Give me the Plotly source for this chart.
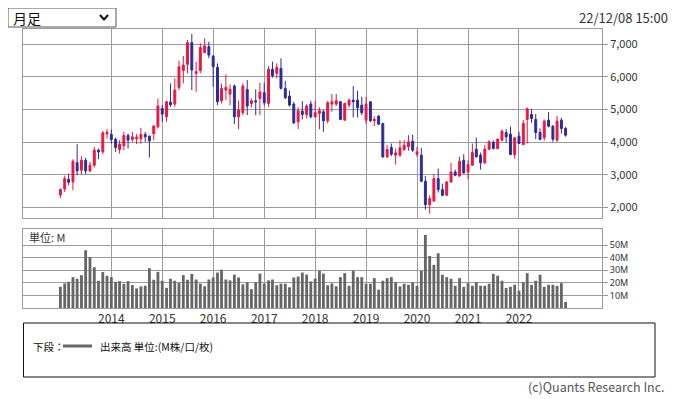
import pandas as pd
import plotly.graph_objects as go

# ---------------- data (monthly, Jan 2013 - Dec 2022) ----------------
months = pd.date_range("2013-01-01", periods=120, freq="MS")

open_ = [
    2379, 2563, 2861, 2779, 3373, 3137, 3445, 3117, 3291, 3752,
    3701, 4254, 4234, 4090, 3773, 3885, 4203, 4080, 4100, 4100,
    4234, 4182, 4254, 4469, 5033, 4777, 5227, 5166, 5678, 6191,
    6385, 7051, 6109, 6191, 6744, 6928, 6641, 6293, 5268, 5596,
    5473, 5719, 4777, 4900, 5617, 5186, 5268, 5340, 5514, 5186,
    6232, 6109, 6262, 5647, 5412, 5166, 4623, 4951, 4848, 5166,
    4777, 4879, 4930, 4654, 5166, 5166, 5238, 4674, 5135, 5289,
    5289, 5135, 4674, 5238, 4654, 4797, 4572, 3547, 3834, 3598,
    3598, 3773, 3855, 4029, 3629, 3598, 2799, 2082, 2195, 2881,
    2543, 2369, 2779, 3086, 2963, 3445, 3086, 3291, 3783, 3598,
    3363, 3783, 3988, 3803, 4059, 4295, 4244, 3619, 4182, 3926,
    4695, 4848, 4695, 4295, 4131, 4674, 4490, 4059, 4674, 4418,
]
high = [
    2584, 2973, 3035, 3475, 3936, 3568, 3516, 3393, 3855, 3803,
    4336, 4398, 4387, 4141, 4059, 4316, 4264, 4316, 4244, 4439,
    4316, 4203, 4521, 5340, 5135, 5268, 5801, 5955, 6498, 6641,
    7133, 7318, 6467, 7031, 7184, 7082, 6672, 6416, 5801, 6078,
    5770, 5770, 5268, 5801, 5904, 5340, 5617, 5822, 5822, 6334,
    6467, 6416, 6570, 5873, 5576, 5238, 5064, 5258, 5166, 5268,
    5258, 5064, 4982, 5258, 5473, 5473, 5268, 5207, 5340, 5719,
    5576, 5392, 5392, 5260, 4797, 4828, 4590, 3906, 3957, 3803,
    4059, 4059, 4213, 4230, 3855, 3824, 2963, 2369, 3014, 3189,
    2727, 2809, 3363, 3158, 3547, 3629, 3445, 3957, 4141, 3680,
    3906, 4059, 4059, 4111, 4387, 4398, 4469, 4162, 4316, 4674,
    5064, 5023, 4859, 4418, 4695, 4920, 4521, 4807, 4746, 4469,
]
low = [
    2287, 2471, 2676, 2523, 2984, 3014, 3014, 3086, 3219, 3475,
    3629, 4111, 3957, 3701, 3650, 3752, 3803, 4008, 3936, 3947,
    4008, 3527, 4059, 4418, 4623, 4623, 5084, 5084, 5596, 5801,
    6109, 5596, 5545, 6109, 6723, 6570, 5699, 5135, 5186, 5289,
    5135, 4551, 4398, 4828, 4828, 5064, 4828, 4828, 5135, 5084,
    5975, 5955, 5617, 5320, 5084, 4551, 4398, 4695, 4725, 4725,
    4746, 4398, 4316, 4572, 4930, 5105, 4674, 4654, 5064, 4756,
    4756, 4828, 4551, 4613, 4490, 4520, 3516, 3516, 3568, 3311,
    3547, 3732, 3732, 3701, 3547, 2768, 1928, 1805, 2164, 2451,
    2338, 2348, 2748, 2953, 2932, 3035, 2861, 3270, 3527, 3158,
    3322, 3752, 3773, 3783, 4039, 3977, 3598, 3496, 3936, 3906,
    3957, 4592, 4090, 4059, 4039, 4449, 4008, 4008, 4264, 4162,
]
close = [
    2543, 2881, 2768, 3414, 3117, 3445, 3117, 3291, 3752, 3701,
    4285, 4305, 4080, 3834, 3936, 4203, 4059, 4162, 4152, 4234,
    4162, 4039, 4490, 5105, 4859, 5238, 5145, 5596, 6314, 6365,
    7051, 6211, 6160, 6898, 6949, 6672, 6314, 5238, 5647, 5678,
    5617, 4777, 4982, 5719, 5105, 5268, 5238, 5535, 5207, 6232,
    6037, 6293, 5647, 5361, 5135, 4592, 4961, 4848, 5105, 4777,
    4900, 4961, 4654, 5207, 5238, 5268, 4695, 5186, 5289, 5238,
    5053, 4900, 5166, 4654, 4695, 4551, 3547, 3773, 3629, 3670,
    3824, 3906, 4008, 3752, 3701, 2799, 2082, 2266, 2881, 2543,
    2369, 2779, 3086, 2984, 3414, 3055, 3311, 3680, 3547, 3363,
    3783, 4008, 3803, 4090, 4336, 4162, 3619, 4131, 3957, 4572,
    5023, 4725, 4295, 4080, 4643, 4490, 4090, 4643, 4418, 4213,
]
volume_m = [
    16.9, 19.6, 20.9, 24.6, 23.3, 26.2, 46.0, 40.5, 32.5, 21.7,
    28.6, 25.7, 24.6, 20.9, 21.4, 19.3, 21.4, 18.3, 15.6, 17.2,
    17.7, 31.7, 22.5, 28.8, 21.7, 16.1, 23.3, 21.7, 20.1, 26.2,
    22.5, 27.2, 22.7, 19.4, 17.3, 22.7, 24.3, 28.2, 30.5, 22.7,
    22.0, 26.6, 24.3, 18.9, 20.4, 15.0, 20.4, 27.4, 19.4, 22.0,
    22.7, 18.1, 19.4, 19.4, 16.5, 24.3, 25.1, 28.2, 26.6, 21.2,
    23.5, 29.7, 27.4, 18.1, 19.6, 17.3, 24.6, 27.8, 17.7, 29.6,
    24.6, 24.6, 19.3, 19.3, 23.8, 14.6, 21.7, 23.8, 24.6, 20.6,
    17.2, 19.3, 18.5, 20.6, 17.7, 29.6, 58.2, 41.5, 34.4, 43.7,
    26.5, 24.6, 23.3, 17.7, 23.8, 16.9, 19.8, 17.7, 20.6, 17.7,
    17.7, 19.3, 27.2, 25.7, 21.7, 15.9, 16.9, 18.5, 13.8, 20.6,
    27.8, 18.5, 21.7, 26.5, 16.9, 18.5, 18.5, 17.7, 19.8, 4.8,
]

price_ticks = [2000, 3000, 4000, 5000, 6000, 7000]
vol_ticks = [10, 20, 30, 40, 50]
vol_tick_labels = ["10M", "20M", "30M", "40M", "50M"]
year_ticks = ["2014-01-01", "2015-01-01", "2016-01-01", "2017-01-01", "2018-01-01",
              "2019-01-01", "2020-01-01", "2021-01-01", "2022-01-01"]
year_labels = ["2014", "2015", "2016", "2017", "2018", "2019", "2020", "2021", "2022"]

# ---------------- styling ----------------
# the page body has an 8px margin, so the figure is drawn 8px in from the window edge
W, H = 670, 391
ML, MR, MT, MB = 15, 76, 21, 91
PW, PH = W - ML - MR, H - MT - MB
PLOT_LEFT, PLOT_BOTTOM = 8 + ML, 8 + H - MB   # in window pixels
RED = "#ea1640"
BLUE = "#2b2a9c"
GRID = "#9a9a9a"
FONT = "Noto Sans CJK JP"
LATIN = "Noto Sans"
TXT = "#333333"


def px_x(px):
    return (px - PLOT_LEFT) / PW


def px_y(py):
    return (PLOT_BOTTOM - py) / PH


fig = go.Figure()
fig.add_trace(go.Candlestick(
    x=months, open=open_, high=high, low=low, close=close,
    increasing=dict(line=dict(color=RED, width=1), fillcolor=RED),
    decreasing=dict(line=dict(color=BLUE, width=1), fillcolor=BLUE),
    whiskerwidth=0, xaxis="x", yaxis="y", showlegend=False, name="",
))
fig.add_trace(go.Bar(
    x=months, y=volume_m, marker=dict(color="#666666", line=dict(width=0)),
    xaxis="x2", yaxis="y2", showlegend=False, name="",
))

xrange_ = ["2012-04-08", "2023-08-19"]
common_x = dict(
    type="date", range=xrange_, showgrid=True, gridcolor=GRID, gridwidth=1,
    tickmode="array", tickvals=year_ticks, ticktext=year_labels,
    showline=True, mirror=True, linecolor=GRID, linewidth=1, zeroline=False,
)
common_y = dict(
    side="right", showgrid=True, gridcolor=GRID, gridwidth=1, showline=True,
    mirror=True, linecolor=GRID, linewidth=1, zeroline=False,
    ticks="outside", ticklen=5, tickcolor=GRID,
    tickfont=dict(family=FONT, size=11, color=TXT), fixedrange=True,
)

price_bottom = px_y(218.3)
vol_top = px_y(229.3)

fig.update_layout(
    width=W, height=H,
    margin=dict(l=ML, r=MR, t=MT, b=MB),
    paper_bgcolor="white", plot_bgcolor="white",
    font=dict(family=FONT, color=TXT),
    showlegend=False, bargap=0.28, boxgap=0.3,
    xaxis=dict(common_x, domain=[0, 1], anchor="y", showticklabels=False,
               rangeslider=dict(visible=False)),
    xaxis2=dict(common_x, domain=[0, 1], anchor="y2", matches="x",
                showticklabels=True, ticks="",
                tickfont=dict(family=FONT, size=12, color=TXT)),
    yaxis=dict(common_y, domain=[price_bottom, 1], range=[1663, 7469],
               tickmode="array", tickvals=price_ticks, tickformat=","),
    yaxis2=dict(common_y, domain=[0, vol_top], range=[0, 62.7],
                tickmode="array", tickvals=vol_ticks, ticktext=vol_tick_labels,
                tickfont=dict(family=LATIN, size=9, color=TXT)),
)

shapes = []
annotations = []

# dropdown box
shapes.append(dict(type="rect", xref="paper", yref="paper",
                   x0=px_x(8), x1=px_x(116), y0=px_y(27), y1=px_y(8),
                   line=dict(color="#555555", width=1), fillcolor="white"))
shapes.append(dict(type="path", xref="paper", yref="paper",
                   path="M {} {} L {} {} L {} {}".format(px_x(100), px_y(15), px_x(104), px_y(19.5),
                                                          px_x(108), px_y(15)),
                   line=dict(color="#111111", width=2)))
annotations.append(dict(text="月足", xref="paper", yref="paper", x=px_x(11), y=px_y(18),
                        xanchor="left", yanchor="middle", showarrow=False,
                        font=dict(family=FONT, size=14, color="#111111")))
# date stamp
annotations.append(dict(text="22/12/08 15:00", xref="paper", yref="paper", x=px_x(670), y=px_y(17),
                        xanchor="right", yanchor="middle", showarrow=False,
                        font=dict(family=FONT, size=13, color=TXT)))
# volume unit label
annotations.append(dict(text="単位: M", xref="paper", yref="paper", x=px_x(27), y=px_y(237),
                        xanchor="left", yanchor="middle", showarrow=False,
                        font=dict(family=FONT, size=11, color=TXT)))
# legend box
shapes.append(dict(type="rect", xref="paper", yref="paper",
                   x0=px_x(23.5), x1=px_x(655), y0=px_y(377), y1=px_y(323),
                   line=dict(color="#111111", width=1)))
annotations.append(dict(text="下段：", xref="paper", yref="paper", x=px_x(31), y=px_y(346),
                        xanchor="left", yanchor="middle", showarrow=False,
                        font=dict(family=FONT, size=10.5, color="#111111")))
shapes.append(dict(type="line", xref="paper", yref="paper",
                   x0=px_x(63), x1=px_x(92), y0=px_y(346), y1=px_y(346),
                   line=dict(color="#666666", width=3)))
annotations.append(dict(text="出来高 単位:(M株/口/枚)", xref="paper", yref="paper", x=px_x(98), y=px_y(346),
                        xanchor="left", yanchor="middle", showarrow=False,
                        font=dict(family=FONT, size=10.5, color="#111111")))
# copyright
annotations.append(dict(text="(c)Quants Research Inc.", xref="paper", yref="paper", x=px_x(667), y=px_y(386),
                        xanchor="right", yanchor="middle", showarrow=False,
                        font=dict(family=FONT, size=12.5, color="#555555")))

fig.update_layout(shapes=shapes, annotations=annotations)
fig.write_html("out.html")
